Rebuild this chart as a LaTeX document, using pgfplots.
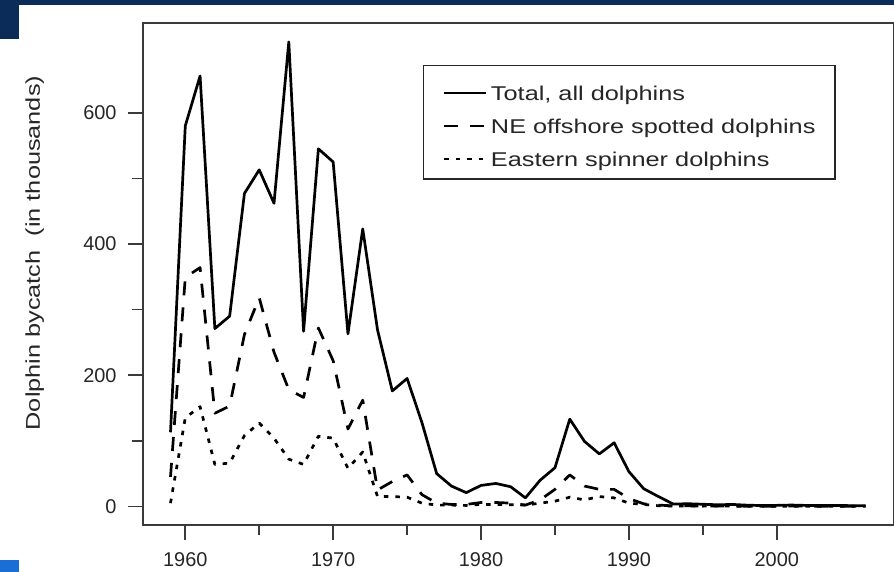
\documentclass[border=0pt]{standalone}
\usepackage{fontspec}
\setmainfont{Liberation Sans}
\newfontfamily\legfont[FakeStretch=1.27]{Liberation Sans}
\usepackage{pgfplots}
\usepackage{pgfplotstable}
\pgfplotsset{compat=1.18}
\definecolor{navy}{HTML}{0B2C58}
\definecolor{brightblue}{HTML}{1A6FD6}
\definecolor{axgray}{HTML}{3A3A3A}

\pgfplotstableread{
year total spotted spinner
1959 113 45 5
1960 580 349 135
1961 656 364 152
1962 271 142 64
1963 290 153 66
1964 477 262 108
1965 513 318 127
1966 462 235 104
1967 708 178 72
1968 267 166 64
1969 545 272 107
1970 525 222 104
1971 263 118 58
1972 423 162 83
1973 269 25 15
1974 176 38 15
1975 195 48 14
1976 128 18 5
1977 50 5 2
1978 31 3 2
1979 21 3 1.5
1980 32 6 3
1981 35 6 3
1982 30 5 2.5
1983 13 2 2
1984 40 10 5
1985 59 26 8
1986 133 48 14
1987 99 31 10
1988 80 26 15
1989 97 26 13
1990 53 12 5
1991 27 4 3
1992 15 2 1
1993 3.6 0.8 0.4
1994 4.1 0.9 0.5
1995 3.3 0.6 0.4
1996 2.5 0.5 0.5
1997 3.0 0.7 0.4
1998 1.9 0.3 0.2
1999 1.3 0.35 0.2
2000 1.6 0.3 0.2
2001 2.1 0.6 0.3
2002 1.5 0.4 0.2
2003 1.5 0.3 0.3
2004 1.4 0.2 0.2
2005 1.2 0.3 0.2
2006 0.9 0.2 0.2
}\bycatch

\begin{document}
\begin{tikzpicture}[x=1bp,y=1bp]
\useasboundingbox (0,0) rectangle (894,572);
\fill[white] (0,0) rectangle (894,572);
\fill[navy] (0,567) rectangle (894,572);
\fill[navy] (0,533) rectangle (19,572);
\fill[brightblue] (0,0) rectangle (19,12);
\begin{axis}[
  at={(142.7bp,47bp)}, anchor=south west,
  scale only axis, width=750.6bp, height=501.7bp,
  xmin=1957.12, xmax=2007.88, ymin=-28.32, ymax=736.32,
  axis line style={axgray, line width=1.6bp},
  xtick={1960,1970,...,2000}, ytick={0,200,400,600},
  minor x tick num=1, minor y tick num=1,
  tick align=outside, tick pos=left,
  major tick length=15bp, minor tick length=10.5bp,
  tick style={axgray, line width=1.6bp},
  /pgf/number format/assume math mode=true,
  /pgf/number format/1000 sep={},
  tick label style={font=\fontsize{20}{24}\selectfont, text=black!85, inner sep=0bp},
  xticklabel style={anchor=north, yshift=-12bp},
  yticklabel style={anchor=east, xshift=-11bp},
  ylabel={Dolphin bycatch\ \ (in thousands)},
  ylabel style={font=\legfont\fontsize{20}{24}\selectfont, text=black!85,
    at={(axis description cs:-0.1439,0.542)}, anchor=center},
  legend cell align=left,
  legend image code/.code={\draw[#1] (0bp,-3.75bp) -- (42bp,-3.75bp);},
  legend style={at={(axis description cs:0.373,0.9169)}, anchor=north west,
    draw=black!85, line width=1.2bp, inner xsep=19.5bp, inner ysep=12bp,
    row sep=9.5bp, font=\legfont\fontsize{20}{24}\selectfont, text=black!85,
    nodes={inner sep=0bp, text height=22.7bp, text depth=0.8bp},
    /tikz/every odd column/.append style={column sep=3.5bp}},
]
\addplot[black, line width=2.7bp, line join=round] table[x=year, y=total] {\bycatch};
\addlegendentry{Total, all dolphins}
\addplot[black, line width=2.7bp, line join=round, dash pattern=on 14bp off 12bp] table[x=year, y=spotted] {\bycatch};
\addlegendentry{NE offshore spotted dolphins}
\addplot[black, line width=2.7bp, line join=round, dash pattern=on 4.5bp off 7bp] table[x=year, y=spinner] {\bycatch};
\addlegendentry{Eastern spinner dolphins}
\end{axis}
\end{tikzpicture}
\end{document}
